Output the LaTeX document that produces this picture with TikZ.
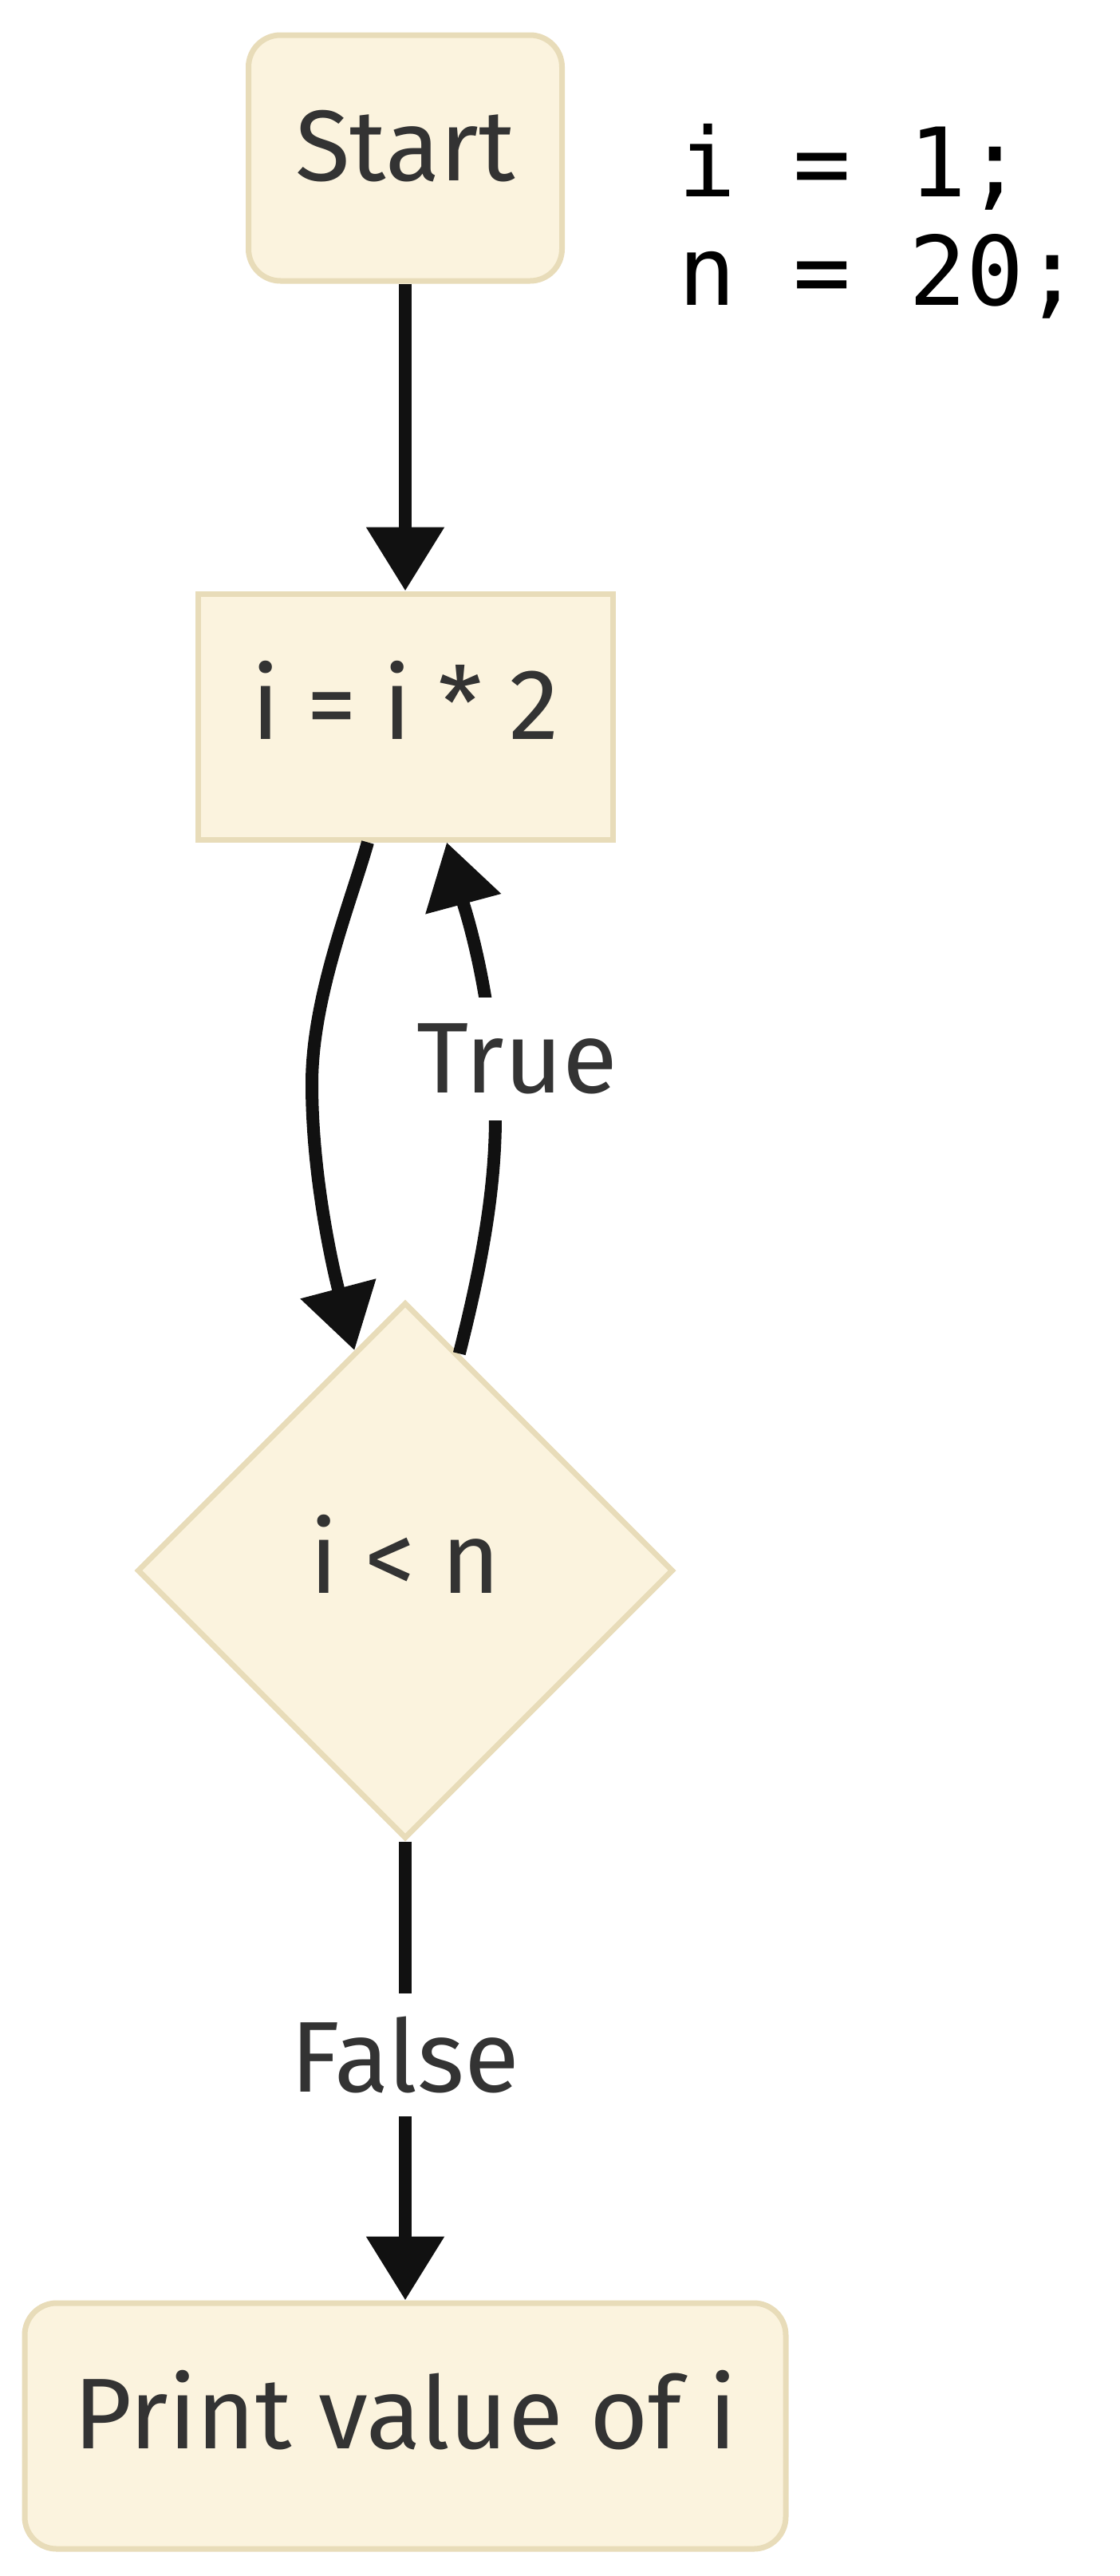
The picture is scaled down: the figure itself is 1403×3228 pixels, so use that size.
\documentclass[tikz,border=0pt]{standalone}
\usepackage{fontspec}
\setmainfont{Fira Sans}
\setmonofont{DejaVu Sans Mono}
\usetikzlibrary{arrows.meta, positioning, shapes.geometric}
\definecolor{boxfill}{HTML}{FBF3DE}
\definecolor{boxline}{HTML}{E8DCB9}
\definecolor{txtgray}{HTML}{333333}
\definecolor{arrowblack}{HTML}{111111}

\begin{document}
\begin{tikzpicture}[x=0.5pt, y=-0.5pt, node distance=350pt]
    \tikzstyle{box} = [rectangle, draw=boxline, fill=boxfill, line width=3.5pt, text=txtgray, font=\fontsize{63}{74}\selectfont, minimum width=260pt, minimum height=154pt, inner sep=0pt, text height=46pt, text depth=18pt]
    \tikzstyle{term} = [box, rounded corners=20pt]
    \tikzstyle{decide} = [box, diamond, minimum width=336pt, minimum height=336pt, aspect=1]
    \tikzstyle{line} = [draw=arrowblack, line width=8pt, -{Triangle[length=40pt, width=47pt]}]
    \tikzstyle{lbl} = [fill=white, text=txtgray, font=\fontsize{63}{74}\selectfont, inner sep=3pt, minimum height=77pt]
    \tikzstyle{code} = [align=left, anchor=west, inner sep=0pt, font=\ttfamily\fontsize{60}{68}\selectfont]

    \useasboundingbox (0,0) rectangle (1403,3228);

    % 节点
    \node[term, minimum width=196.5pt] (start) at (508,198) {Start};
    \node[code] (init) at (850,277) {i = 1;\\n = 20;};
    \node[box, below of=start] (calc) {i = i * 2};
    \node[decide, below of=calc, node distance=535pt] (cond) {i < n};
    \node[term, below of=cond, node distance=536pt, minimum width=477pt] (print) {Print value of i};

    % 连线
    \path [line] (start) -- (calc);
    \path [line] ([xshift=-23.5pt]calc.south) .. controls (440,1130) and (391,1250) .. (391,1358)
        .. controls (391,1480) and (420,1600) .. (cond.103.5);
    \path [line] (cond.76) .. controls (600,1600) and (621,1500) .. (621,1400)
        .. controls (621,1250) and (580,1130) .. ([xshift=26pt]calc.south);
    \path [line] (cond) -- (print);

    % 标签
    \node[lbl] (truelbl) at (648,1327) {True};
    \node[lbl] (falselbl) at (508,2575) {False};
\end{tikzpicture}
\end{document}
